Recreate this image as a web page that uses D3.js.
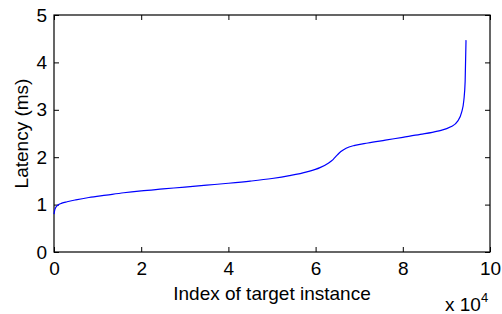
<!DOCTYPE html>
<html>
<head>
<meta charset="utf-8">
<script src="https://cdn.jsdelivr.net/npm/d3@7"></script>
<style>
  body { margin: 0; background: #fff; }
  text { font-family: "Liberation Sans", Arial, sans-serif; fill: #000; }
</style>
</head>
<body>
<div id="chart"></div>
<script>
// sorted per-instance latency
const instanceIndex = [0, 150, 400, 900, 1800, 3000, 5000, 8000, 12000, 16000, 20000, 25000, 30000,
  35000, 40000, 45000, 50000, 54000, 58000, 61000, 63000, 64000, 65000, 65800, 67000, 69000, 72000,
  76000, 80000, 84000, 88000, 91000, 92500, 93500, 94000, 94300, 94500];
const latencyMs = [0.80, 0.88, 0.94, 0.99, 1.03, 1.06, 1.10, 1.15, 1.20, 1.25, 1.29, 1.33, 1.37,
  1.41, 1.45, 1.495, 1.55, 1.61, 1.69, 1.78, 1.88, 1.95, 2.05, 2.12, 2.19, 2.25, 2.30,
  2.36, 2.42, 2.48, 2.55, 2.64, 2.75, 2.95, 3.20, 3.60, 4.47];
const xTicks = [0, 2, 4, 6, 8, 10];
const yTicks = [0, 1, 2, 3, 4, 5];

const width = 502, height = 314;
const margin = { top: 15, right: 12, bottom: 62, left: 54 };
const w = width - margin.left - margin.right;
const h = height - margin.top - margin.bottom;
const fontSize = '19px';

const svg = d3.select('#chart').append('svg')
  .attr('width', width)
  .attr('height', height);

const g = svg.append('g')
  .attr('transform', `translate(${margin.left}, ${margin.top})`);

const x = d3.scaleLinear().domain([0, 10]).range([0, w]);
const y = d3.scaleLinear().domain([0, 5]).range([h, 0]);

const data = instanceIndex.map((d, i) => ({ idx: d / 1e4, lat: latencyMs[i] }));

// MATLAB style: ticks point inward on all four sides
const tickLen = 5;
const styleAxis = (sel) => {
  sel.select('.domain').remove();
  sel.selectAll('line').attr('stroke', '#000').attr('stroke-width', 1);
  sel.selectAll('text').style('font-size', fontSize);
};

g.append('g')
  .attr('transform', `translate(0, ${h})`)
  .call(d3.axisBottom(x).tickValues(xTicks).tickSizeInner(-tickLen).tickSizeOuter(0).tickPadding(10).tickFormat(d3.format('d')))
  .call(styleAxis);
g.append('g')
  .call(d3.axisTop(x).tickValues(xTicks).tickSizeInner(-tickLen).tickSizeOuter(0).tickFormat(''))
  .call(styleAxis);
g.append('g')
  .call(d3.axisLeft(y).tickValues(yTicks).tickSizeInner(-tickLen).tickSizeOuter(0).tickPadding(7).tickFormat(d3.format('d')))
  .call(styleAxis);
g.append('g')
  .attr('transform', `translate(${w}, 0)`)
  .call(d3.axisRight(y).tickValues(yTicks).tickSizeInner(-tickLen).tickSizeOuter(0).tickFormat(''))
  .call(styleAxis);

// box
g.append('rect')
  .attr('width', w)
  .attr('height', h)
  .attr('fill', 'none')
  .attr('stroke', '#000')
  .attr('stroke-width', 1.2);

const line = d3.line()
  .x(d => x(d.idx))
  .y(d => y(d.lat))
  .curve(d3.curveMonotoneX);

g.append('path')
  .datum(data)
  .attr('fill', 'none')
  .attr('stroke', '#0000ff')
  .attr('stroke-width', 1.2)
  .attr('d', line);

// labels
svg.append('text')
  .attr('x', margin.left + w / 2)
  .attr('y', 300)
  .attr('text-anchor', 'middle')
  .style('font-size', fontSize)
  .text('Index of target instance');

svg.append('text')
  .attr('transform', `translate(28, ${margin.top + h / 2}) rotate(-90)`)
  .attr('text-anchor', 'middle')
  .style('font-size', fontSize)
  .text('Latency (ms)');

const mult = svg.append('text')
  .attr('x', 445)
  .attr('y', 311)
  .style('font-size', fontSize);
mult.append('tspan').text('x 10');
mult.append('tspan').attr('dy', -9).style('font-size', '13px').text('4');
</script>
</body>
</html>
